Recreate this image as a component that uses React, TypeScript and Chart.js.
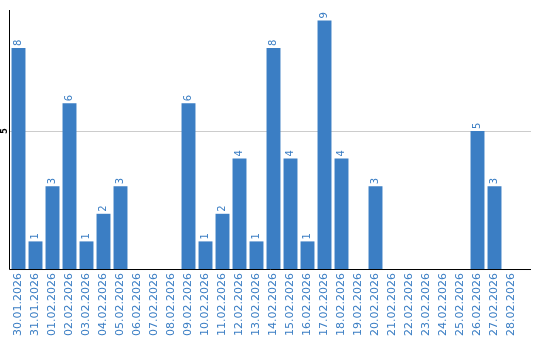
import React, { useEffect, useRef } from "react";
import { Chart, registerables } from "chart.js";

Chart.register(...registerables);

const categories = [
  "30.01.2026", "31.01.2026", "01.02.2026", "02.02.2026", "03.02.2026",
  "04.02.2026", "05.02.2026", "06.02.2026", "07.02.2026", "08.02.2026",
  "09.02.2026", "10.02.2026", "11.02.2026", "12.02.2026", "13.02.2026",
  "14.02.2026", "15.02.2026", "16.02.2026", "17.02.2026", "18.02.2026",
  "19.02.2026", "20.02.2026", "21.02.2026", "22.02.2026", "23.02.2026",
  "24.02.2026", "25.02.2026", "26.02.2026", "27.02.2026", "28.02.2026",
];
const values = [8, 1, 3, 6, 1, 2, 3, 0, 0, 0, 6, 1, 2, 4, 1, 8, 4, 1, 9, 4, 0, 3, 0, 0, 0, 0, 0, 5, 3, 0];
const yTicks = [5];

const BLUE = "#3b7ec4";

const overlay = {
  id: "overlay",
  beforeDatasetsDraw(chart: any) {
    const ctx = chart.ctx;
    const { chartArea } = chart;
    const ys = chart.scales.y;
    ctx.save();
    ctx.strokeStyle = "#cccccc";
    ctx.lineWidth = 1;
    yTicks.forEach((t) => {
      const y = Math.round(ys.getPixelForValue(t)) + 0.5;
      ctx.beginPath();
      ctx.moveTo(chartArea.left, y);
      ctx.lineTo(chart.width - 9, y);
      ctx.stroke();
    });
    ctx.restore();
  },
  afterDatasetsDraw(chart: any) {
    const ctx = chart.ctx;
    const meta = chart.getDatasetMeta(0);
    const { chartArea } = chart;
    ctx.save();
    // value labels
    ctx.fillStyle = BLUE;
    ctx.font = "10px 'DejaVu Sans'";
    ctx.textAlign = "left";
    ctx.textBaseline = "middle";
    meta.data.forEach((bar: any, i: number) => {
      const v = values[i];
      if (!v) return;
      ctx.save();
      ctx.translate(bar.x, bar.y - 2);
      ctx.rotate(-Math.PI / 2);
      ctx.fillText(String(v), 0, 0);
      ctx.restore();
    });
    // y tick labels rotated
    const ys = chart.scales.y;
    ctx.fillStyle = "#000";
    ctx.font = "bold 8px 'DejaVu Sans'";
    ctx.textAlign = "center";
    yTicks.forEach((t) => {
      ctx.save();
      ctx.translate(chartArea.left - 5, ys.getPixelForValue(t));
      ctx.rotate(-Math.PI / 2);
      ctx.fillText(String(t), 0, 0);
      ctx.restore();
    });
    // axes lines
    ctx.strokeStyle = "#000";
    ctx.lineWidth = 1;
    ctx.beginPath();
    ctx.moveTo(chartArea.left - 0.5, chartArea.top);
    ctx.lineTo(chartArea.left - 0.5, chartArea.bottom + 0.5);
    ctx.lineTo(chart.width - 9, chartArea.bottom + 0.5);
    ctx.stroke();
    ctx.restore();
  },
};

export default function App() {
  const ref = useRef<HTMLCanvasElement>(null);
  useEffect(() => {
    const chart = new Chart(ref.current!, {
      type: "bar",
      data: {
        labels: categories,
        datasets: [
          {
            data: values,
            backgroundColor: BLUE,
            borderWidth: 0,
            categoryPercentage: 1,
            barPercentage: 0.82,
          },
        ],
      },
      options: {
        animation: false,
        responsive: false,
        maintainAspectRatio: false,
        layout: { padding: { left: 10, top: 10, right: 20, bottom: 0 } },
        plugins: { legend: { display: false }, tooltip: { enabled: false } },
        scales: {
          x: {
            grid: { display: false, drawTicks: false },
            border: { display: false },
            ticks: {
              minRotation: 90,
              maxRotation: 90,
              autoSkip: false,
              color: BLUE,
              padding: 4,
              font: { family: "'DejaVu Sans'", size: 11 },
            },
          },
          y: {
            min: 0,
            max: 9.38,
            afterBuildTicks: (scale: any) => {
              scale.ticks = yTicks.map((v) => ({ value: v }));
            },
            grid: { display: false, drawTicks: false },
            border: { display: false },
            ticks: { display: false },
          },
        },
      },
      plugins: [overlay],
    });
    return () => chart.destroy();
  }, []);
  return (
    <div style={{ position: "absolute", left: 0, top: 0, width: 540, height: 340 }}>
      <canvas ref={ref} width={540} height={340} style={{ width: 540, height: 340 }} />
    </div>
  );
}
